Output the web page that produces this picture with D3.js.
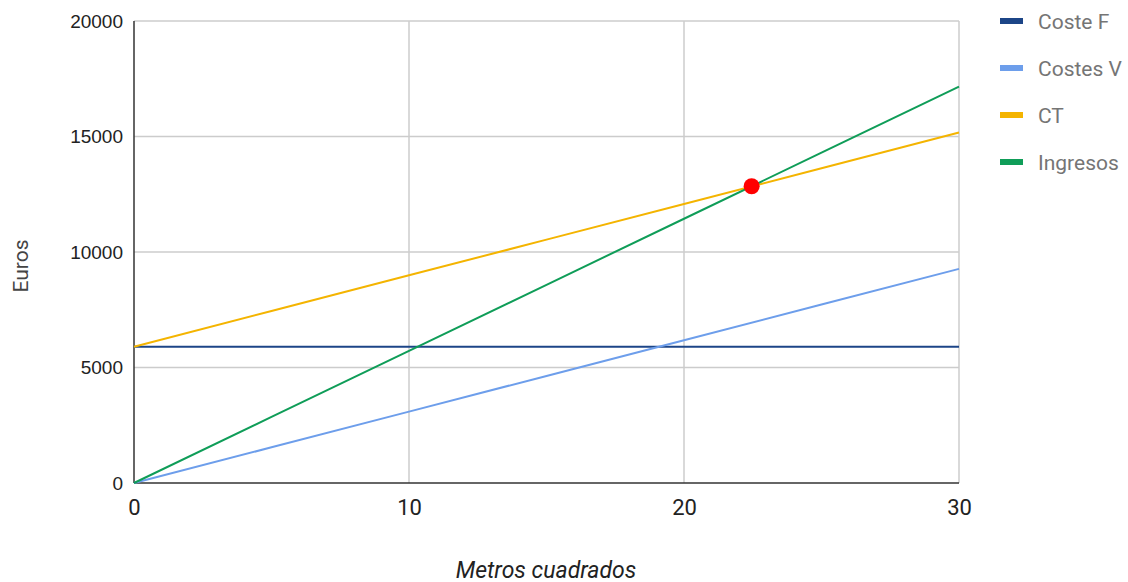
<!DOCTYPE html>
<html><head><meta charset="utf-8">
<script src="https://cdn.jsdelivr.net/npm/d3@7"></script>
<style>body{margin:0;background:#fff}</style>
</head><body>
<svg id="c" width="1128" height="582"></svg>
<script>
const xVals = [0, 5, 10, 15, 20, 25, 30];
const costeF = [5900, 5900, 5900, 5900, 5900, 5900, 5900];
const costesV = [0, 1545, 3090, 4635, 6180, 7725, 9270];
const ct = [5900, 7445, 8990, 10535, 12080, 13625, 15170];
const ingresos = [0, 2860, 5720, 8580, 11440, 14300, 17160];
const seriesNames = ["Coste F", "Costes V", "CT", "Ingresos"];
const seriesColors = ["#1c4587", "#6d9eeb", "#f4b400", "#0f9d58"];
const breakEven = [22.46, 12847];
const xTicks = [0, 10, 20, 30];
const yTicks = [0, 5000, 10000, 15000, 20000];

const svg = d3.select("#c");
const L = 134, R = 959, T = 21, B = 483;
const x = d3.scaleLinear().domain([0, 30]).range([L, R]);
const y = d3.scaleLinear().domain([0, 20000]).range([B, T]);

// grid
svg.append("g").selectAll("line").data(xTicks.slice(1)).join("line")
  .attr("x1", d => x(d)).attr("x2", d => x(d)).attr("y1", T).attr("y2", B)
  .attr("stroke", "#cccccc").attr("stroke-width", 1.5);
svg.append("g").selectAll("line").data(yTicks.slice(1)).join("line")
  .attr("x1", L).attr("x2", R).attr("y1", d => y(d)).attr("y2", d => y(d))
  .attr("stroke", "#cccccc").attr("stroke-width", 1.5);

// y axis labels
const yAx = svg.append("g").attr("transform", `translate(${L},0)`)
  .call(d3.axisLeft(y).tickValues(yTicks).tickSize(0).tickPadding(11).tickFormat(d3.format("d")));
yAx.select(".domain").remove();
yAx.selectAll("text").attr("font-family", "Liberation Sans, Arial, sans-serif").attr("font-size", 19).attr("fill", "#222");

const xAx = svg.append("g").attr("transform", `translate(0,${B})`)
  .call(d3.axisBottom(x).tickValues(xTicks).tickSize(0).tickPadding(16).tickFormat(d3.format("d")));
xAx.select(".domain").remove();
xAx.selectAll("text").attr("font-family", "Roboto, sans-serif").attr("font-size", 22).attr("fill", "#222");

// axis lines
svg.append("line").attr("x1", L).attr("x2", L).attr("y1", T).attr("y2", B).attr("stroke", "#333").attr("stroke-width", 1.5);
svg.append("line").attr("x1", L).attr("x2", R).attr("y1", B).attr("y2", B).attr("stroke", "#333").attr("stroke-width", 1.5);

// lines
const data = [costeF, costesV, ct, ingresos];
const line = d3.line().x((d, i) => x(xVals[i])).y(d => y(d));
data.forEach((s, k) => {
  svg.append("path").attr("d", line(s)).attr("fill", "none")
    .attr("stroke", seriesColors[k]).attr("stroke-width", 2);
});

// break-even point
svg.append("circle").attr("cx", x(breakEven[0])).attr("cy", y(breakEven[1])).attr("r", 8).attr("fill", "#ff0000");

// axis titles
svg.append("text").attr("transform", `translate(28,${(T + B) / 2 + 14}) rotate(-90)`)
  .attr("text-anchor", "middle").attr("font-family", "Roboto, sans-serif").attr("font-size", 21)
  .attr("fill", "#444").text("Euros");
svg.append("text").attr("x", 546).attr("y", 578)
  .attr("text-anchor", "middle").attr("font-family", "Roboto, sans-serif").attr("font-size", 23)
  .attr("font-style", "italic").attr("fill", "#222").text("Metros cuadrados");

// legend
const lg = svg.append("g").selectAll("g").data(seriesNames).join("g")
  .attr("transform", (d, i) => `translate(1000,${21 + i * 47})`);
lg.append("rect").attr("x", 0).attr("y", -3).attr("width", 23).attr("height", 6).attr("fill", (d, i) => seriesColors[i]);
lg.append("text").attr("x", 38).attr("y", 8).attr("font-family", "Roboto, sans-serif").attr("font-size", 21)
  .attr("fill", "#757575").text(d => d);
</script>
</body></html>
